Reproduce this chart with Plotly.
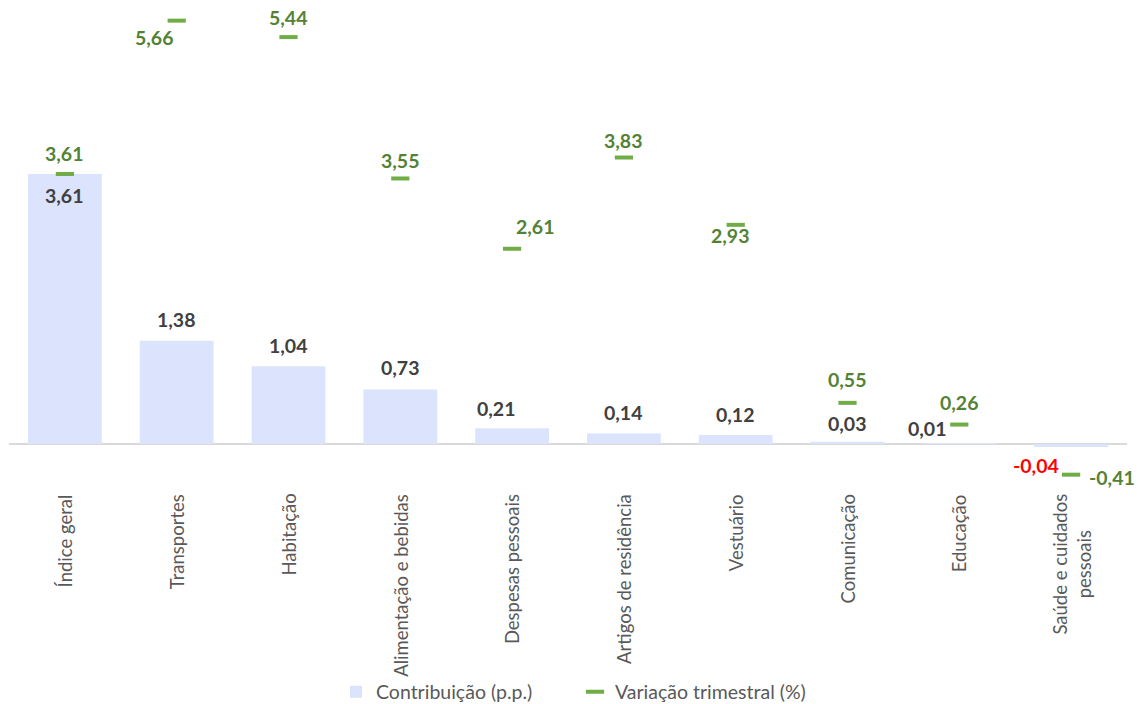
import plotly.graph_objects as go

categories = ["Índice geral", "Transportes", "Habitação", "Alimentação e bebidas",
              "Despesas pessoais", "Artigos de residência", "Vestuário",
              "Comunicação", "Educação", "Saúde e cuidados<br>pessoais"]
contribuicao = [3.61, 1.38, 1.04, 0.73, 0.21, 0.14, 0.12, 0.03, 0.01, -0.04]
variacao = [3.61, 5.66, 5.44, 3.55, 2.61, 3.83, 2.93, 0.55, 0.26, -0.41]

# label offsets in pixels (dx, dy) - styling only
bar_lbl_off = [(0, -22), (0, 21), (0, 21), (0, 22), (-16, 20), (0, 21), (0, 21),
               (0, 18), (-32, 15), (-35, -19)]
var_lbl_off = [(0, 20), (-22, -17), (0, 20), (0, 18), (23, 22), (0, 17), (-5, -11),
               (0, 23), (0, 22), (41, -3)]

FONT = "Lato"
FS = 19.5
FS_CAT = 18.5
BAR_COLOR = "#dce3fc"
MARK_COLOR = "#70ad47"
GREEN_TXT = "#548235"
DARK_TXT = "#404040"
GRAY_TXT = "#595959"

x_idx = list(range(len(categories)))

fig = go.Figure()
fig.add_trace(go.Bar(x=x_idx, y=contribuicao, name="Contribuição (p.p.)",
                     marker=dict(color=BAR_COLOR, line=dict(width=0)), width=0.66))
fig.add_trace(go.Scatter(x=x_idx, y=variacao, mode="markers", name="Variação trimestral (%)",
                         marker=dict(symbol="line-ew", size=13,
                                     line=dict(width=4, color=MARK_COLOR), color=MARK_COLOR),
                         cliponaxis=False))

def fmt(v):
    return f"{v:.2f}".replace(".", ",")

annotations = []
for i, v in enumerate(contribuicao):
    dx, dy = bar_lbl_off[i]
    annotations.append(dict(x=i, y=v, xref="x", yref="y", text=f"<b>{fmt(v)}</b>",
                            showarrow=False, xanchor="center", yanchor="middle",
                            xshift=dx, yshift=dy,
                            font=dict(family=FONT, size=FS,
                                      color="#ff0000" if v < 0 else DARK_TXT)))
for i, v in enumerate(variacao):
    dx, dy = var_lbl_off[i]
    annotations.append(dict(x=i, y=v, xref="x", yref="y", text=f"<b>{fmt(v)}</b>",
                            showarrow=False, xanchor="center", yanchor="middle",
                            xshift=dx, yshift=dy,
                            font=dict(family=FONT, size=FS, color=GREEN_TXT)))
for i, c in enumerate(categories):
    annotations.append(dict(x=i, y=0, xref="x", yref="y", text=c, textangle=-90,
                            showarrow=False, xanchor="center", yanchor="top",
                            yshift=-48, align="center",
                            font=dict(family=FONT, size=FS_CAT, color=GRAY_TXT)))

PX_PER_UNIT = 74.8
MB = 32
fig.update_layout(
    width=1138, height=704,
    margin=dict(l=9, r=11, t=0, b=MB),
    paper_bgcolor="white", plot_bgcolor="white",
    showlegend=True,
    legend=dict(orientation="h", x=(336 - 9) / 1118, xanchor="left",
                yref="container", y=12 / 704, yanchor="middle",
                entrywidth=194, entrywidthmode="pixels",
                bgcolor="rgba(0,0,0,0)",
                font=dict(family=FONT, size=FS, color=GRAY_TXT), traceorder="normal"),
    annotations=annotations,
    xaxis=dict(range=[-0.5, len(categories) - 0.5], showticklabels=False, showgrid=False,
               zeroline=False, showline=False, ticks=""),
    yaxis=dict(range=[-(704 - MB - 444) / PX_PER_UNIT, 444 / PX_PER_UNIT],
               showticklabels=False, showgrid=False, zeroline=True,
               zerolinecolor="#d9d9d9", zerolinewidth=2, showline=False),
)

fig.write_html("out.html")
